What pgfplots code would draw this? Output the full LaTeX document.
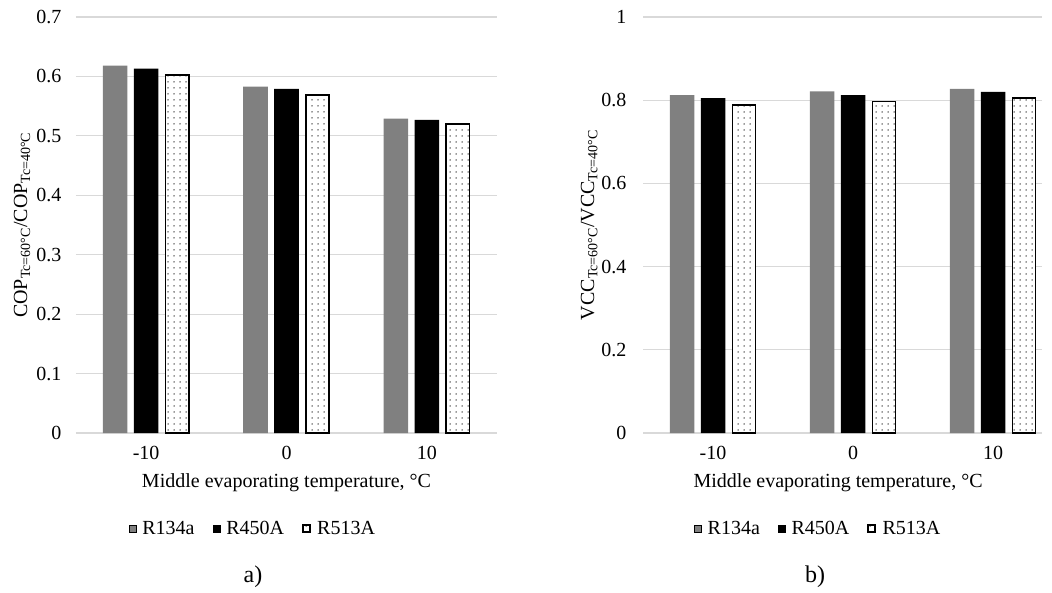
\documentclass[border=0pt]{standalone}
\usepackage{fontspec}
\setmainfont{Liberation Serif}
\usepackage{pgfplots}
\pgfplotsset{compat=1.18}
\usetikzlibrary{patterns.meta}

\definecolor{barGray}{HTML}{808080}
\definecolor{gridGray}{HTML}{D9D9D9}

\newcommand{\chartfont}{\fontsize{20}{24}\selectfont}

\pgfplotsset{
  sq legend/.style={legend image code/.code={%
      \draw[##1] (0pt,-3.5pt) rectangle (7pt,3.5pt);
      \path[draw=none] (0pt,0pt) (11.5pt,0pt);}},
  panel/.style={
    scale only axis,
    height=416pt,
    xmin=-0.5, ymin=0,
    axis line style={draw=none},
    major tick length=0pt,
    ymajorgrids,
    grid style={gridGray, line width=1.2pt},
    xtick={0,1,2},
    xticklabels={-10,0,10},
    /pgf/number format/assume math mode=true,
    tick label style={font=\chartfont},
    xticklabel style={yshift=-10pt},
    yticklabel style={xshift=-11pt},
    label style={font=\chartfont},
    legend style={draw=none, fill=none, legend columns=3, anchor=center,
      font=\chartfont,
      /tikz/every even column/.append style={column sep=16pt}},
  },
  r134a/.style={ybar, bar width=0.175, bar shift=-0.221, fill=barGray, draw=none, sq legend},
  r450a/.style={ybar, bar width=0.175, bar shift=0, fill=black, draw=none, sq legend},
  r513a/.style={ybar, bar width=0.165, bar shift=0.221, draw=black, line width=1.6pt,
    preaction={fill=white},
    pattern={Dots[distance=6pt, radius=0.75pt]}, pattern color=black!80, sq legend},
}

\begin{document}
\begin{tikzpicture}
\useasboundingbox (0,0) rectangle (1052pt,-592pt);

% a) COP ratio
\begin{axis}[panel,
  at={(76pt,-433pt)}, anchor=south west,
  width=421pt,
  xmax=2.5, ymax=0.7,
  ytick={0,0.1,0.2,0.3,0.4,0.5,0.6,0.7},
  xlabel={Middle evaporating temperature, °C},
  xlabel style={at={(axis description cs:0.5,-0.12)}, anchor=center},
  ylabel={COP\textsubscript{Tc=60°C}/COP\textsubscript{Tc=40°C}},
  ylabel style={at={(axis description cs:-0.128,0.5)}, anchor=center},
  legend style={at={(axis description cs:0.42,-0.229)}},
]
\addplot[r134a] coordinates {(0,0.618) (1,0.583) (2,0.529)};
\addplot[r450a] coordinates {(0,0.613) (1,0.579) (2,0.527)};
\addplot[r513a] coordinates {(0,0.602) (1,0.569) (2,0.520)};
\legend{R134a,R450A,R513A}
\end{axis}

% b) VCC ratio
\begin{axis}[panel,
  at={(643pt,-433pt)}, anchor=south west,
  width=399pt,
  xmax=2.35, ymax=1,
  ytick={0,0.2,0.4,0.6,0.8,1},
  yticklabel style={xshift=-2pt},
  xlabel={Middle evaporating temperature, °C},
  xlabel style={at={(axis description cs:0.489,-0.12)}, anchor=center},
  ylabel={VCC\textsubscript{Tc=60°C}/VCC\textsubscript{Tc=40°C}},
  ylabel style={at={(axis description cs:-0.135,0.5)}, anchor=center},
  legend style={at={(axis description cs:0.439,-0.230)}},
]
\addplot[r134a] coordinates {(0,0.812) (1,0.821) (2,0.827)};
\addplot[r450a] coordinates {(0,0.805) (1,0.812) (2,0.820)};
\addplot[r513a] coordinates {(0,0.788) (1,0.797) (2,0.806)};
\legend{R134a,R450A,R513A}
\end{axis}

\node[font=\fontsize{24}{28}\selectfont] at (253pt,-577pt) {a)};
\node[font=\fontsize{24}{28}\selectfont] at (815pt,-577pt) {b)};
\end{tikzpicture}
\end{document}
